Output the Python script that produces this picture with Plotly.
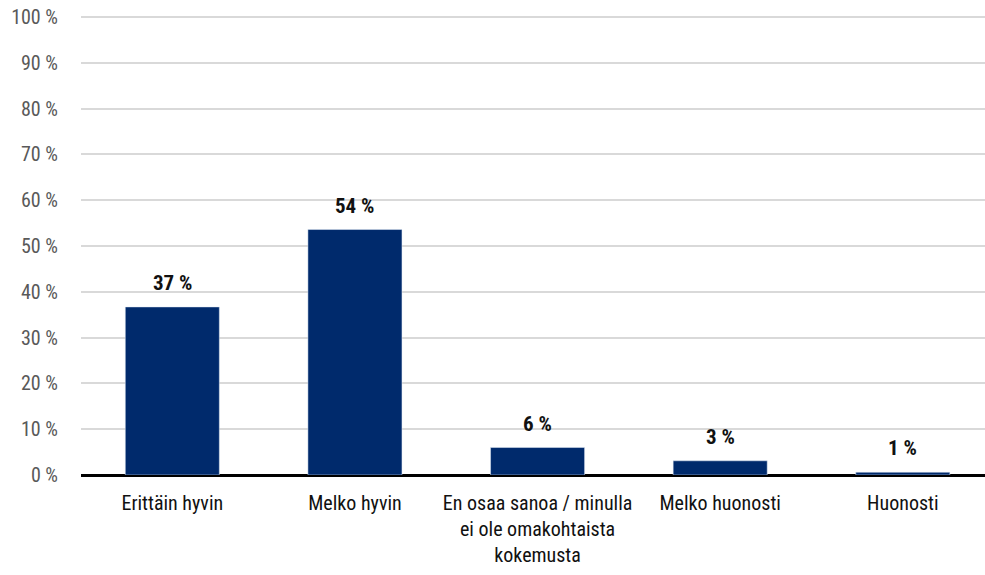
import plotly.graph_objects as go

categories = ["Erittäin hyvin", "Melko hyvin",
              "En osaa sanoa / minulla<br>ei ole omakohtaista<br>kokemusta",
              "Melko huonosti", "Huonosti"]
values = [36.7, 53.6, 6.0, 3.1, 0.6]
labels = ["37 %", "54 %", "6 %", "3 %", "1 %"]
y_ticks = [0, 10, 20, 30, 40, 50, 60, 70, 80, 90, 100]
y_tick_text = [f"{v} %" for v in y_ticks]

FONT = "Roboto Condensed, Liberation Sans Narrow, DejaVu Sans Condensed, sans-serif"

fig = go.Figure()
fig.add_trace(go.Bar(
    x=list(range(len(categories))), y=values,
    marker_color="#002A6C", width=0.515,
    hoverinfo="skip",
))

for i, (v, t) in enumerate(zip(values, labels)):
    fig.add_annotation(x=i, y=v, text=f"<b>{t}</b>", showarrow=False, yanchor="bottom",
                       yshift=10, font=dict(family=FONT, size=21, color="#111111"))

fig.update_layout(
    width=985, height=575,
    margin=dict(l=81, r=0, t=12, b=100),
    plot_bgcolor="white", paper_bgcolor="white",
    showlegend=False,
    font=dict(family=FONT, size=20, color="#111111"),
    xaxis=dict(
        range=[-0.5, 4.45], tickmode="array",
        tickvals=list(range(len(categories))), ticktext=categories,
        showgrid=False, zeroline=False, showline=False,
        ticklabelstandoff=14, automargin=False,
        tickfont=dict(family=FONT, size=20, color="#111111"),
    ),
    yaxis=dict(
        range=[0, 101.1], tickmode="array", tickvals=y_ticks, ticktext=y_tick_text,
        showgrid=True, gridcolor="#d9d9d9", gridwidth=1.5,
        zeroline=True, zerolinecolor="#000000", zerolinewidth=3,
        showline=False, ticklabelstandoff=22, automargin=False,
        ticklabeloverflow="allow",
        tickfont=dict(family=FONT, size=20, color="#595959"),
    ),
)

fig.write_html("out.html", config={"displayModeBar": False},
               post_script="document.body.style.margin='0';")
